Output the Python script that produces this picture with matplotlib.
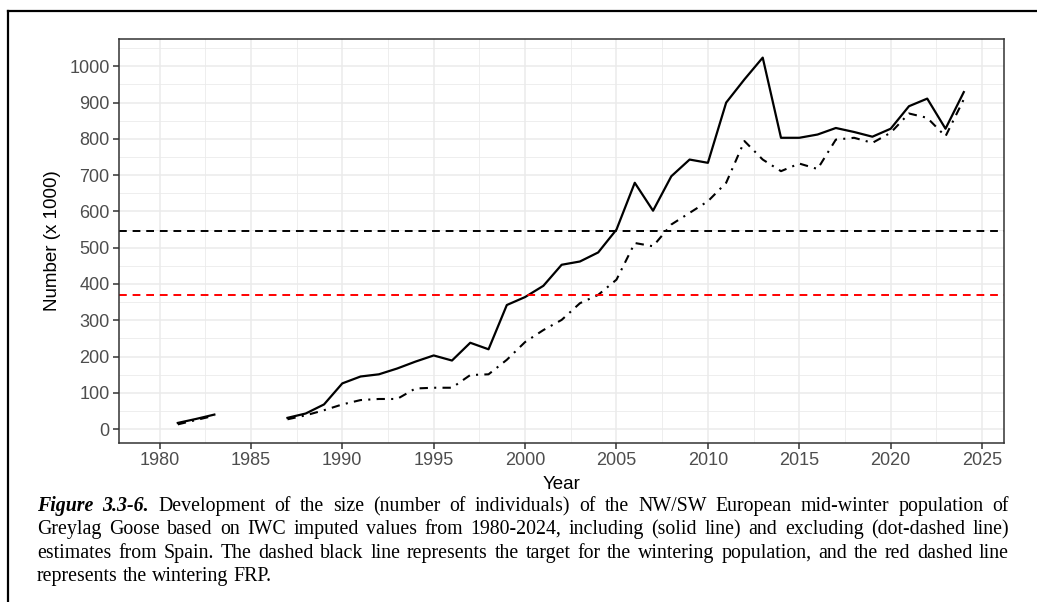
import matplotlib
matplotlib.use("Agg")
import matplotlib.pyplot as plt
import numpy as np
from matplotlib.lines import Line2D
from matplotlib.ticker import MultipleLocator

# years 1980-2024, NaN where no estimate
years = list(range(1980, 2025))
incl_spain = [np.nan, 17, 28, 40, np.nan, np.nan, np.nan, 31, 43, 68,
              126, 145, 151, 167, 186, 203, 189, 238, 220, 342,
              364, 395, 453, 462, 487, 550, 679, 602, 697, 743,
              734, 900, 964, 1024, 803, 803, 812, 830, 819, 806,
              828, 890, 911, 828, 929]
excl_spain = [np.nan, 13, 25, 37, np.nan, np.nan, np.nan, 27, 38, 52,
              68, 80, 83, 83, 112, 114, 114, 149, 151, 191,
              240, 273, 301, 347, 370, 412, 513, 504, 564, 596,
              628, 679, 794, 743, 711, 732, 717, 798, 803, 789,
              817, 870, 858, 807, 909]
target = 545
frp = 370

caption_lines = [
    "Development of the size (number of individuals) of the NW/SW European mid-winter population of",
    "Greylag Goose based on IWC imputed values from 1980-2024, including (solid line) and excluding (dot-dashed line)",
    "estimates from Spain. The dashed black line represents the target for the wintering population, and the red dashed line",
    "represents the wintering FRP.",
]
caption_label = "Figure 3.3-6."

W, H = 1037, 602
fig = plt.figure(figsize=(W / 100, H / 100), dpi=100)
ax = fig.add_axes([119.3 / W, 1 - 442.7 / H, (1004 - 119.3) / W, (442.7 - 39.3) / H])

ax.plot(years, incl_spain, color="black", lw=1.6, solid_joinstyle="round")
ax.plot(years, excl_spain, color="black", lw=1.5, linestyle=(0, (4, 3, 1, 3)))
ax.axhline(target, color="black", lw=1.4, linestyle=(0, (4, 3)))
ax.axhline(frp, color="#FF0000", lw=1.4, linestyle=(0, (4, 3)))

ax.set_xlim(1977.8, 2026.2)
ax.set_ylim(-37.5, 1074.5)
ax.xaxis.set_major_locator(MultipleLocator(5))
ax.xaxis.set_minor_locator(MultipleLocator(2.5))
ax.yaxis.set_major_locator(MultipleLocator(100))
ax.yaxis.set_minor_locator(MultipleLocator(50))
ax.grid(which="major", color="#EBEBEB", lw=1.1)
ax.grid(which="minor", color="#EBEBEB", lw=0.6)
ax.set_axisbelow(True)
for s in ax.spines.values():
    s.set_color("#333333")
    s.set_linewidth(1.1)
ax.tick_params(which="major", length=4, width=1.1, color="#333333",
               labelsize=13, labelcolor="#4D4D4D", pad=3)
ax.tick_params(which="minor", length=0)
for lab in ax.get_xticklabels() + ax.get_yticklabels():
    lab.set_family("Liberation Sans")
ax.set_xlabel("Year", family="Liberation Sans", fontsize=13.5, labelpad=5)
ax.set_ylabel("Number (x 1000)", family="Liberation Sans", fontsize=13.5, labelpad=6)

# outer frame (left and top edges)
fig.add_artist(Line2D([8 / W, 8 / W], [0, 1 - 11 / H], color="black", lw=1.6,
                      transform=fig.transFigure))
fig.add_artist(Line2D([8 / W, 1], [1 - 11 / H, 1 - 11 / H], color="black", lw=1.6,
                      transform=fig.transFigure))

# justified caption, word by word
fig.canvas.draw()
renderer = fig.canvas.get_renderer()
x_left, x_right = 37, 1009
line_base = [511, 534, 558, 581]
cap_size = 14.3


def word_width(word, bold_italic=False):
    t = fig.text(0, 0, word, family="Liberation Serif", fontsize=cap_size,
                 weight="bold" if bold_italic else "normal",
                 style="italic" if bold_italic else "normal")
    w = t.get_window_extent(renderer).width
    t.remove()
    return w


for i, line in enumerate(caption_lines):
    words = line.split(" ")
    styles = [False] * len(words)
    if i == 0:
        words = caption_label.split(" ") + words
        styles = [True, True] + styles
    widths = [word_width(w, s) for w, s in zip(words, styles)]
    if i < len(caption_lines) - 1:
        gap = (x_right - x_left - sum(widths)) / (len(words) - 1)
    else:
        gap = word_width("a b") - word_width("ab")
    x = x_left
    for w, s, wd in zip(words, styles, widths):
        fig.text(x / W, 1 - line_base[i] / H, w, family="Liberation Serif",
                 fontsize=cap_size, weight="bold" if s else "normal",
                 style="italic" if s else "normal", va="baseline", ha="left")
        x += wd + gap

fig.savefig("out.png", dpi=100)
